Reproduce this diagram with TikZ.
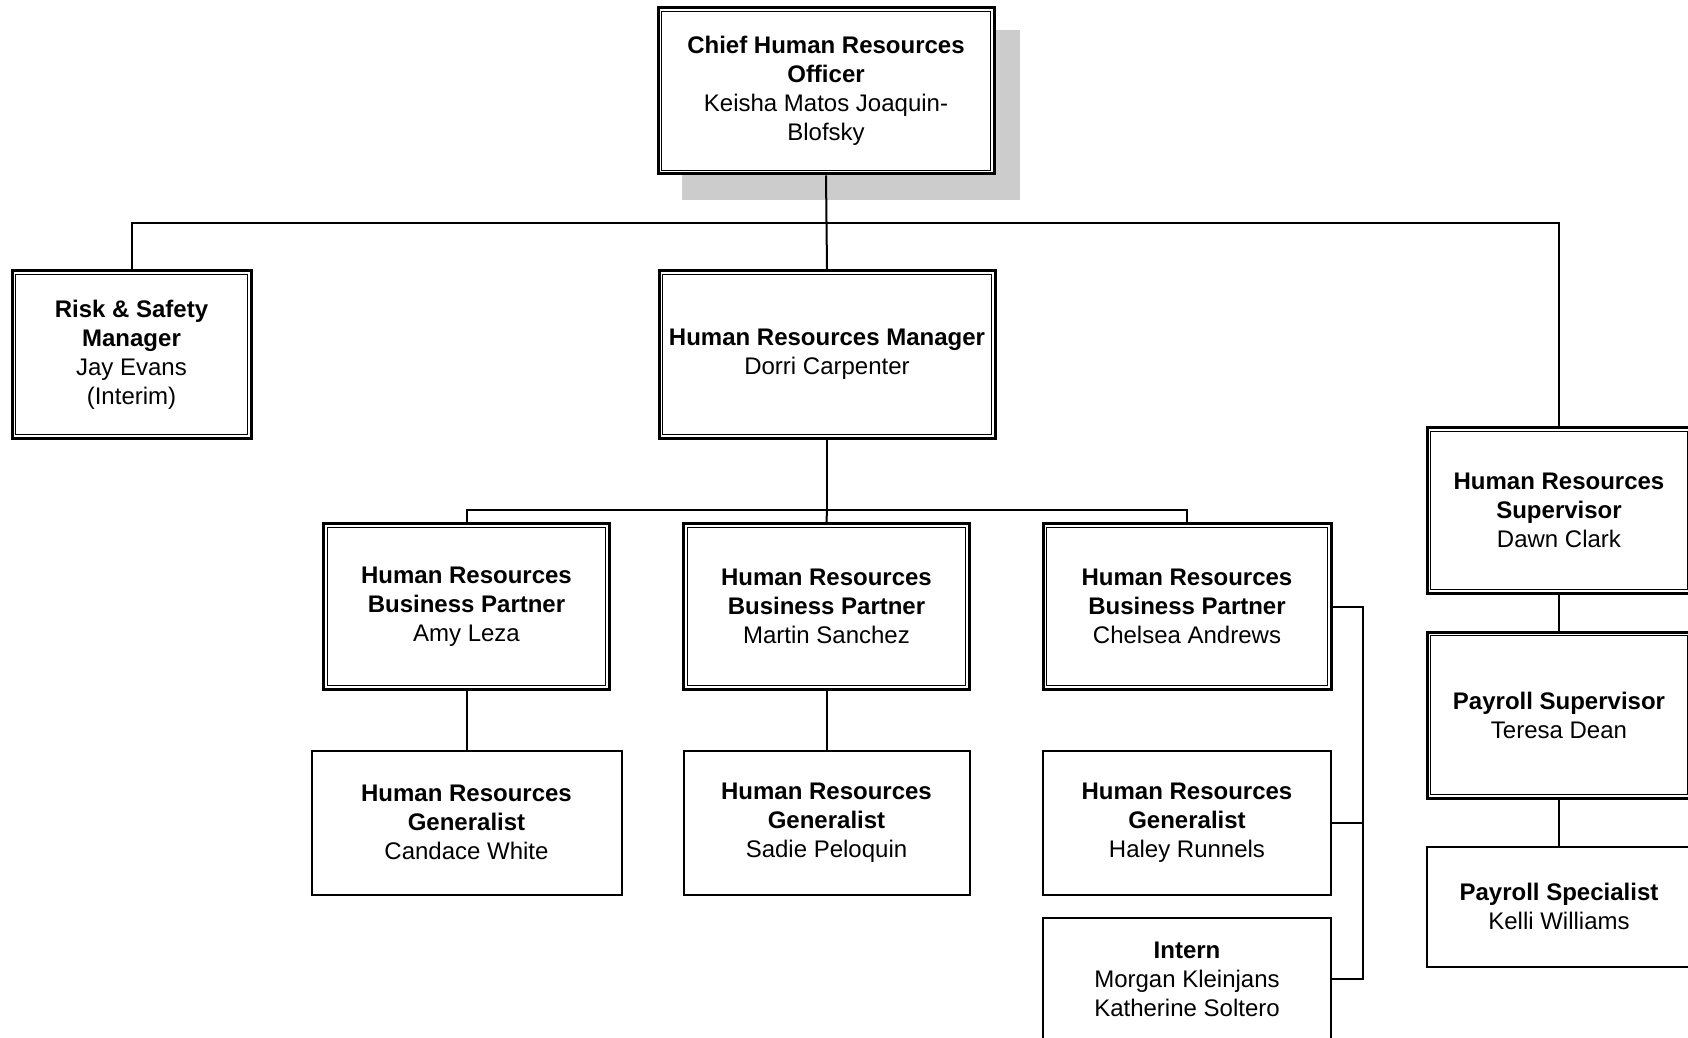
\documentclass[tikz,border=0pt]{standalone}
\usepackage{fontspec}
\setmainfont{Liberation Sans}
\tikzset{
    post/.style={
        draw, line width=1pt, fill=white, align=center, inner sep=0pt,
        font=\fontsize{12}{14.5}\selectfont
    },
    dpost/.style={post, line width=1.5pt},
    link/.style={line width=1pt}
}

\begin{document}
\begin{tikzpicture}[x=0.5pt,y=-0.5pt]
		\path[use as bounding box, clip] (0,0) rectangle (1688,1038);

		% shadow of the top box
		\fill[black!20] (682,30) rectangle (1020,200);

		% top
		\node[dpost, minimum width=168pt, minimum height=83pt] (chro) at (826,91) {\textbf{Chief Human Resources}\\\textbf{Officer}\\Keisha Matos Joaquin-\\Blofsky};

		% second row
		\node[dpost, minimum width=119.5pt, minimum height=84pt] (risk) at (131.5,354.5) {\textbf{Risk \& Safety}\\\textbf{Manager}\\Jay Evans\\(Interim)};
		\node[dpost, minimum width=168pt, minimum height=84pt] (hrm) at (827,354.5) {\textbf{Human Resources Manager}\\Dorri Carpenter};
		\node[dpost, minimum width=132pt, minimum height=83pt] (hrs) at (1559,510.5) {\textbf{Human Resources}\\\textbf{Supervisor}\\Dawn Clark};

		% business partners
		\node[dpost, minimum width=143pt, minimum height=83pt] (bp1) at (466.5,606.5) {\textbf{Human Resources}\\\textbf{Business Partner}\\Amy Leza};
		\node[dpost, minimum width=143pt, minimum height=83pt] (bp2) at (826.5,606.5) {\textbf{Human Resources}\\\textbf{Business Partner}\\Martin Sanchez};
		\node[dpost, minimum width=144pt, minimum height=83pt] (bp3) at (1187,606.5) {\textbf{Human Resources}\\\textbf{Business Partner}\\Chelsea Andrews};

		% generalists
		\node[post, minimum width=155pt, minimum height=72pt] (gen1) at (466.5,822.5) {\textbf{Human Resources}\\\textbf{Generalist}\\Candace White};
		\node[post, minimum width=143pt, minimum height=72pt] (gen2) at (826.5,822.5) {\textbf{Human Resources}\\\textbf{Generalist}\\Sadie Peloquin};
		\node[post, minimum width=144pt, minimum height=72pt] (gen3) at (1187,822.5) {\textbf{Human Resources}\\\textbf{Generalist}\\Haley Runnels};
		\node[post, minimum width=144pt, minimum height=61pt] (intern) at (1187,979) {\textbf{Intern}\\Morgan Kleinjans\\Katherine Soltero};

		% payroll
		\node[dpost, minimum width=132pt, minimum height=83pt] (pays) at (1559,715) {\textbf{Payroll Supervisor}\\Teresa Dean};
		\node[post, minimum width=132pt, minimum height=60pt] (pspec) at (1559,906.5) {\textbf{Payroll Specialist}\\Kelli Williams};

		% inner lines of the double boxes
		\foreach \n in {chro,risk,hrm,hrs,bp1,bp2,bp3,pays}
			\draw[line width=0.6pt] ([shift={(2.6pt,-2.6pt)}]\n.north west) rectangle ([shift={(-2.6pt,2.6pt)}]\n.south east);

		% connectors
		\coordinate (bus) at (827,223);
		\coordinate (bpbus) at (827,510);
		\coordinate (rail) at (1363,606.5);
		\draw[link] (chro.south) -- (hrm.north);
		\draw[link] (risk.north) |- (bus) -| (hrs.north);
		\draw[link] (hrm.south) -- (bpbus);
		\draw[link] (bp1.north) |- (bpbus) -| (bp3.north);
		\draw[link] (bpbus) -- (bp2.north);
		\draw[link] (bp1.south) -- (gen1.north);
		\draw[link] (bp2.south) -- (gen2.north);
		\draw[link] (bp3.east) -- (rail) |- (intern.east);
		\draw[link] (gen3.east) -- (gen3.east -| rail);
		\draw[link] (hrs.south) -- (pays.north);
		\draw[link] (pays.south) -- (pspec.north);
	\end{tikzpicture}
\end{document}
